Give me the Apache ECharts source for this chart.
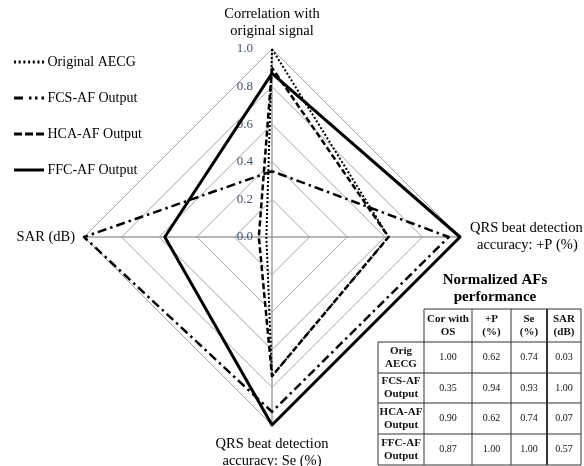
<!DOCTYPE html>
<html>
<head>
<meta charset="utf-8">
<script src="https://cdn.jsdelivr.net/npm/echarts@6/dist/echarts.min.js"></script>
<style>
  html, body { margin: 0; padding: 0; background: #fff; }
  #chart { width: 584px; height: 466px; }
</style>
</head>
<body>
<div id="chart"></div>
<script>
// Normalized performance of each filter output, per metric (Cor, +P, Se, SAR)
const origAECG = [1.00, 0.62, 0.74, 0.03];
const fcsAF    = [0.35, 0.94, 0.93, 1.00];
const hcaAF    = [0.90, 0.62, 0.74, 0.07];
const ffcAF    = [0.87, 1.00, 1.00, 0.57];

const seriesNames = ['Original AECG', 'FCS-AF Output', 'HCA-AF Output', 'FFC-AF Output'];
const rowHeaders = [['Orig', 'AECG'], ['FCS-AF', 'Output'], ['HCA-AF', 'Output'], ['FFC-AF', 'Output']];
const colHeaders = [['Cor with', 'OS'], ['+P', '(%)'], ['Se', '(%)'], ['SAR', '(dB)']];
const axisTicks = [0, 0.2, 0.4, 0.6, 0.8, 1.0];

// Radar axes go counter-clockwise from the top: Cor, SAR, Se, +P
const axisOrder = [0, 3, 2, 1];
const reorder = arr => axisOrder.map(i => arr[i]);

const FONT = 'Liberation Serif';

// Legend glyphs: thin bars drawn in a 30 x 3 box
function dots(xs, w) { return xs.map(x => `M${x},0h${w}v3h-${w}z`).join(''); }
const iconDotted  = 'path://' + dots([0, 4.7, 9.4, 14.1, 18.8, 23.5, 28], 2);
const iconDashDot = 'path://M0,0h9v3h-9z' + dots([15, 21, 27.5], 2.5);
const iconDashed  = 'path://M0,0h8v3h-8zM11,0h8v3h-8zM22,0h8v3h-8z';
const iconSolid   = 'path://M0,0h30v3h-30z';
const legendIcons = [iconDotted, iconDashDot, iconDashed, iconSolid];

const lineStyles = [
  { type: [2, 2], width: 2 },
  { type: [9, 4, 2.5, 4], width: 2.5 },
  { type: [6, 3], width: 2.5 },
  { type: 'solid', width: 3 }
];
const values = [origAECG, fcsAF, hcaAF, ffcAF];

const chart = echarts.init(document.getElementById('chart'), null, { renderer: 'canvas' });

// ---- table of normalized values (drawn with graphic elements) ----
const colX = [378, 424, 472, 511, 547, 581];
const rowY = [309, 342, 373, 403, 434, 465];
const tableGraphics = [];
function hLine(x1, x2, y, w) {
  tableGraphics.push({ type: 'line', shape: { x1, y1: y, x2, y2: y }, style: { stroke: '#333', lineWidth: w || 1 }, silent: true });
}
function vLine(x, y1, y2, w) {
  tableGraphics.push({ type: 'line', shape: { x1: x, y1, x2: x, y2 }, style: { stroke: '#333', lineWidth: w || 1 }, silent: true });
}
function cellText(lines, cx, cy, bold, size) {
  tableGraphics.push({
    type: 'text', x: cx, y: cy, silent: true,
    style: {
      text: lines.join('\n'), fill: '#111', font: (bold ? 'bold ' : '') + size + 'px "' + FONT + '"',
      align: 'center', verticalAlign: 'middle', lineHeight: 13
    }
  });
}
// title
tableGraphics.push({
  type: 'text', x: 495, y: 289, silent: true,
  style: { text: 'Normalized AFs\nperformance', fill: '#000', font: 'bold 15px "' + FONT + '"', align: 'center', verticalAlign: 'middle', lineHeight: 17 }
});
// horizontal rules
hLine(colX[1], colX[5], rowY[0]);
for (let r = 1; r < rowY.length; r++) hLine(colX[0], colX[5], rowY[r]);
// vertical rules
vLine(colX[0], rowY[1], rowY[5]);
vLine(colX[1], rowY[0], rowY[5]);
vLine(colX[2], rowY[0], rowY[5]);
vLine(colX[3], rowY[0], rowY[5]);
vLine(colX[4], rowY[0], rowY[5], 2);
vLine(colX[5], rowY[0], rowY[5]);
// headers
colHeaders.forEach((h, c) => cellText(h, (colX[c + 1] + colX[c + 2]) / 2, (rowY[0] + rowY[1]) / 2, true, 11));
rowHeaders.forEach((h, r) => cellText(h, (colX[0] + colX[1]) / 2, (rowY[r + 1] + rowY[r + 2]) / 2, true, 11));
// values
values.forEach((vals, r) => {
  vals.forEach((v, c) => cellText([v.toFixed(2)], (colX[c + 1] + colX[c + 2]) / 2, (rowY[r + 1] + rowY[r + 2]) / 2, false, 10));
});

const option = {
  animation: false,
  backgroundColor: '#fff',
  legend: {
    orient: 'vertical',
    left: 9,
    top: 49,
    itemWidth: 31,
    itemHeight: 3,
    itemGap: 20,
    selectedMode: false,
    textStyle: { fontFamily: FONT, fontSize: 14, color: '#000', lineHeight: 16, padding: [0, 0, 0, -2] },
    itemStyle: { borderWidth: 0 },
    data: seriesNames.map((n, i) => ({ name: n, icon: legendIcons[i] }))
  },
  radar: {
    center: [272, 237],
    radius: 188,
    startAngle: 90,
    splitNumber: 5,
    shape: 'polygon',
    nameGap: 10,
    axisName: { color: '#000', fontFamily: FONT, fontSize: 14.5, lineHeight: 17 },
    splitLine: { lineStyle: { color: '#a6a6a6', width: 1 } },
    splitArea: { show: false },
    axisLine: { lineStyle: { color: '#a0a0a0', width: 1.5 } },
    axisTick: { show: false },
    axisLabel: { show: false },
    indicator: [
      {
        name: 'Correlation with\noriginal signal', min: 0, max: 1, nameGap: 9,
        axisLabel: {
          show: true, color: '#44546a', fontFamily: FONT, fontSize: 13, margin: 19,
          formatter: v => axisTicks.includes(Math.round(v * 10) / 10) ? v.toFixed(1) : ''
        }
      },
      { name: 'SAR (dB)', min: 0, max: 1, nameGap: 9 },
      { name: 'QRS beat detection\naccuracy: Se (%)', min: 0, max: 1, nameGap: 11 },
      { name: '{a|QRS beat detection}\n{b|accuracy: +P (%)}', min: 0, max: 1, nameGap: 10 }
    ]
  },
  graphic: tableGraphics,
  series: values.map((vals, i) => ({
    type: 'radar',
    name: seriesNames[i],
    symbol: 'none',
    silent: true,
    itemStyle: { color: '#000' },
    lineStyle: Object.assign({ color: '#000', cap: 'butt' }, lineStyles[i]),
    data: [{ name: seriesNames[i], value: reorder(vals) }]
  }))
};

// rich styles for the +P axis name
option.radar.axisName.rich = {
  a: { fontFamily: FONT, fontSize: 14.5, color: '#000', lineHeight: 17 },
  b: { fontFamily: FONT, fontSize: 14.5, color: '#000', lineHeight: 17, padding: [0, 0, 0, 7] }
};

chart.setOption(option);
</script>
</body>
</html>
